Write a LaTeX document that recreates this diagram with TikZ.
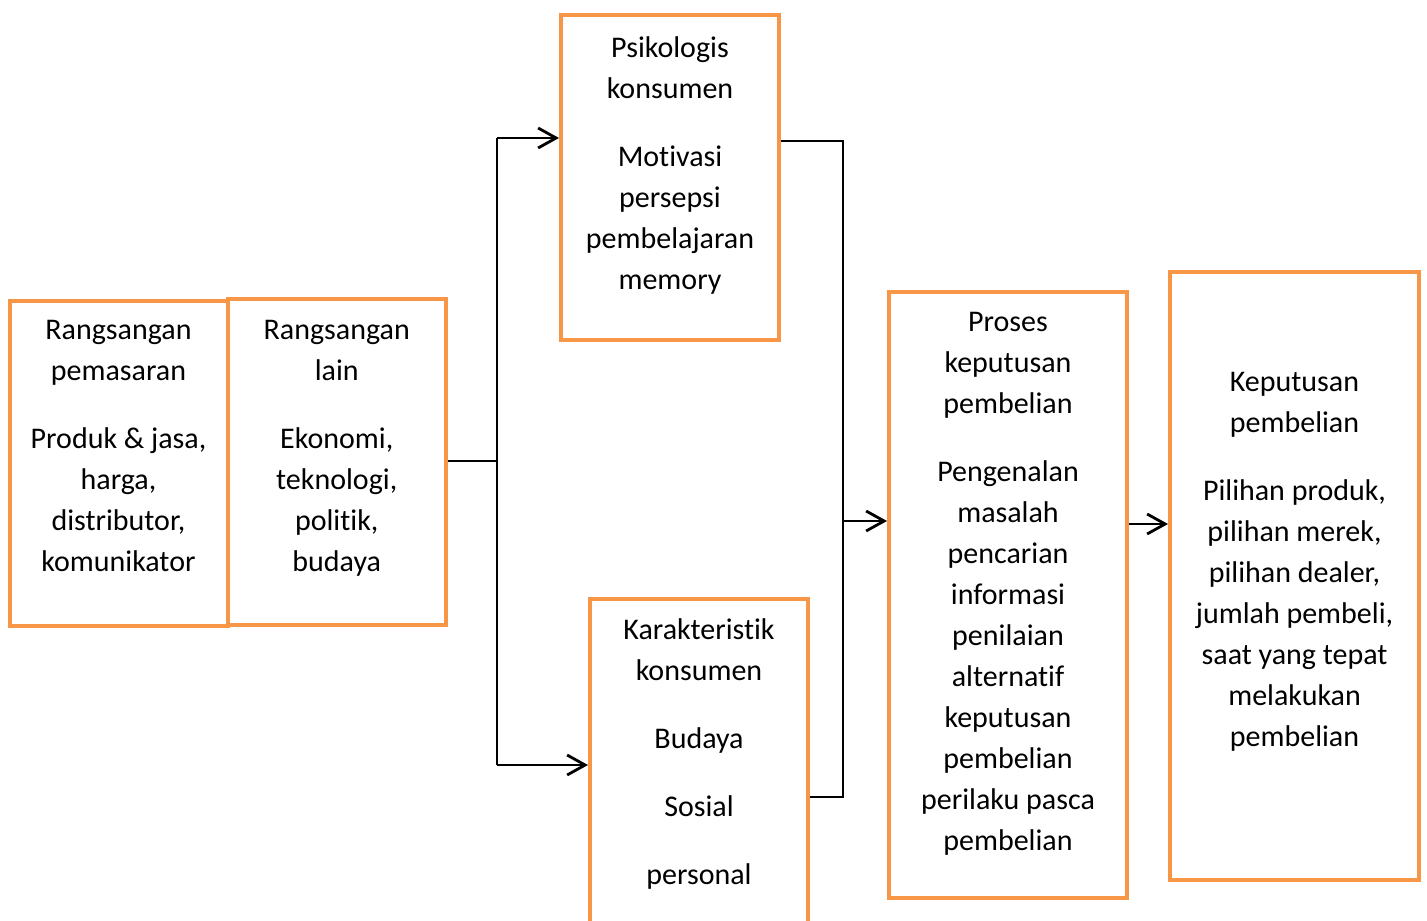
\documentclass[tikz,border=0pt]{standalone}
\usepackage{fontspec}
\setmainfont{Carlito}[Ligatures=NoCommon]
\usetikzlibrary{arrows.meta,positioning}
\definecolor{boxorange}{RGB}{247,150,70}

\begin{document}
\begin{tikzpicture}[x=0.5pt,y=-0.5pt,
  box/.style={draw=boxorange,line width=2pt,inner sep=0pt},
  txt/.style={align=center,inner sep=0pt,font=\fontsize{15}{20.5}\selectfont,execute at begin node=\strut},
  link/.style={line width=1pt},
  arrow/.style={line width=1.4pt,-{Straight Barb[length=9pt,width=10pt]}}]
\useasboundingbox (0,0) rectangle (1427,920);

\node[box,minimum width=109pt,minimum height=162.5pt] (pemasaran) at (118.5,463) {};
\node[box,minimum width=108.75pt,minimum height=162.75pt] (lain) at (336.75,461.75) {};
\node[box,minimum width=109pt,minimum height=162.5pt] (psikologis) at (670,177.5) {};
\node[box,minimum width=109pt,minimum height=180.5pt] (karakteristik) at (699,779.5) {};
\node[box,minimum width=119pt,minimum height=303pt] (proses) at (1008,595) {};
\node[box,minimum width=124.5pt,minimum height=304pt] (keputusan) at (1294.5,576) {};

\node[txt,below=10.9pt of pemasaran.north] (pemasaran text) {Rangsangan\\pemasaran\\[13.5pt]Produk \& jasa,\\harga,\\distributor,\\komunikator};
\node[txt,below=11.65pt of lain.north] (lain text) {Rangsangan\\lain\\[13.5pt]Ekonomi,\\teknologi,\\politik,\\budaya};
\node[txt,below=11.65pt of psikologis.north] (psikologis text) {Psikologis\\konsumen\\[13.5pt]Motivasi\\persepsi\\pembelajaran\\memory};
\node[txt,below=10.65pt of karakteristik.north] (karakteristik text) {Karakteristik\\konsumen\\[13.5pt]Budaya\\[13.5pt]Sosial\\[13.5pt]personal};
\node[txt,below=11.15pt of proses.north] (proses text) {Proses\\keputusan\\pembelian\\[13.5pt]Pengenalan\\masalah\\pencarian\\informasi\\penilaian\\alternatif\\keputusan\\pembelian\\perilaku pasca\\pembelian};
\node[txt,below=51.15pt of keputusan.north] (keputusan text) {Keputusan\\pembelian\\[13.5pt]Pilihan produk,\\pilihan merek,\\pilihan dealer,\\jumlah pembeli,\\saat yang tepat\\melakukan\\pembelian};

\coordinate (fork) at (497,461);
\coordinate (fork top) at (497,138);
\coordinate (fork bottom) at (497,765);
\draw[link] (lain.east |- fork) -- (fork);
\draw[link] (fork top) -- (fork bottom);
\draw[arrow] (fork top) -- (fork top -| psikologis.west);
\draw[arrow] (fork bottom) -- (fork bottom -| karakteristik.west);

\coordinate (join top) at (843,141);
\coordinate (join bottom) at (843,797);
\coordinate (join) at (843,521);
\draw[link] (psikologis.east |- join top) -- (join top) -- (join bottom) -- (join bottom -| karakteristik.east);
\draw[arrow] (join) -- (join -| proses.west);

\coordinate (decide) at (1150,524);
\draw[arrow] (proses.east |- decide) -- (decide -| keputusan.west);

\end{tikzpicture}
\end{document}
